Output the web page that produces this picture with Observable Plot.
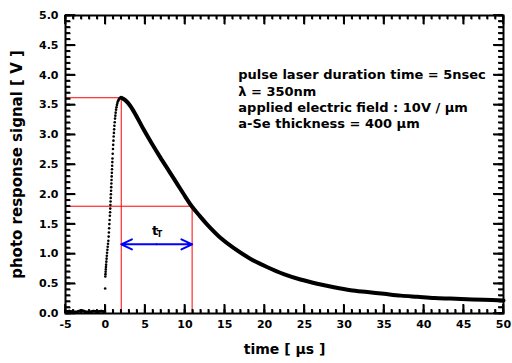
<!DOCTYPE html>
<html>
<head>
<meta charset="utf-8">
<script src="https://cdn.jsdelivr.net/npm/d3@7"></script>
<script src="https://cdn.jsdelivr.net/npm/@observablehq/plot@0.6"></script>
<style>
  html, body { margin: 0; padding: 0; background: #fff; }
  #chart svg text { font-family: "DejaVu Sans", "Liberation Sans", Arial, sans-serif; font-weight: bold; }
</style>
</head>
<body>
<div id="chart"></div>
<script>
// ---- data ----
const baseT = [-5, -4.5, -4, -3.5, -3, -2.5, -2, -1.5, -1, -0.5, -0.1];
const baseV = [0.03, 0.04, 0.02, 0.03, 0.05, 0.03, 0.02, 0.04, 0.03, 0.04, 0.03];

const riseT = [-0.02, 0.00, 0.02, 0.04, 0.06, 0.08, 0.10, 0.13, 0.16, 0.19, 0.22, 0.26, 0.30, 0.34, 0.38,
  0.42, 0.45, 0.48, 0.51, 0.54, 0.57, 0.60, 0.62, 0.64, 0.66, 0.68, 0.70, 0.72, 0.74, 0.76, 0.78,
  0.80, 0.82, 0.84, 0.86, 0.88, 0.90, 0.93, 0.96, 0.99, 1.02, 1.05, 1.08, 1.11, 1.14, 1.18, 1.22,
  1.26, 1.30, 1.35, 1.40, 1.46, 1.52, 1.58, 1.65, 1.72, 1.80, 1.88, 1.96];
const riseV = [0.42, 0.62, 0.66, 0.70, 0.74, 0.78, 0.82, 0.87, 0.92, 0.97, 1.02, 1.07, 1.12, 1.17, 1.22,
  1.29, 1.36, 1.43, 1.50, 1.57, 1.64, 1.70, 1.76, 1.82, 1.88, 1.94, 2.00, 2.06, 2.12, 2.18, 2.24,
  2.30, 2.36, 2.42, 2.48, 2.54, 2.60, 2.68, 2.76, 2.83, 2.90, 2.97, 3.03, 3.09, 3.15, 3.21, 3.27,
  3.32, 3.37, 3.42, 3.46, 3.50, 3.53, 3.56, 3.58, 3.60, 3.61, 3.62, 3.62];

const decayT = [2.0, 2.5, 3.1, 4.0, 4.8, 5.8, 6.9, 8.0, 9.0, 10.0, 10.9, 11.9, 12.8, 14.45, 16.1,
  18.2, 20.3, 22.4, 24.5, 26.6, 28.7, 30.8, 32.9, 35.0, 37.1, 39.2, 41.3, 43.3, 45.4, 47.5, 50.0];
const decayV = [3.62, 3.58, 3.49, 3.29, 3.09, 2.86, 2.62, 2.39, 2.18, 1.97, 1.79, 1.63, 1.49, 1.27, 1.10,
  0.92, 0.78, 0.66, 0.57, 0.50, 0.44, 0.39, 0.36, 0.33, 0.30, 0.28, 0.26, 0.25, 0.24, 0.23, 0.22];

const peakT = 2.0, peakV = 3.62;
const halfT = 10.9, halfV = 1.8;
const arrowV = 1.16;

const xMajor = [-5, 0, 5, 10, 15, 20, 25, 30, 35, 40, 45, 50];
const xMinor = d3.range(-5, 51, 1);
const yMajor = [0, 0.5, 1, 1.5, 2, 2.5, 3, 3.5, 4, 4.5, 5];
const yMinor = d3.range(0, 51, 1).map(d => d / 10);

const noteLines = [
  "pulse laser duration time = 5nsec",
  "λ = 350nm",
  "applied electric field : 10V / µm",
  "a-Se thickness = 400 µm"
];
const xLabel = "time [ µs ]";
const yLabel = "photo response signal [ V ]";

// ---- layout ----
const W = 512, H = 363;
const mL = 65, mR = 9, mT = 15, mB = 50;
const fw = W - mL - mR, fh = H - mT - mB;
const xDom = [-5, 50], yDom = [0, 5];
const ppx = fw / (xDom[1] - xDom[0]);   // px per µs
const ppy = fh / (yDom[1] - yDom[0]);   // px per V
const TW = 1.6;                          // tick thickness, px

const base = baseT.map((t, i) => ({t, v: baseV[i]}));
const rise = riseT.map((t, i) => ({t, v: riseV[i]}));
const decay = decayT.map((t, i) => ({t, v: decayV[i]}));

// inward tick marks (lengths in px): drawn both as thin filled rects and as links
const rows = (vals) => vals.map(v => ({v}));
const tickXRect = (vals, len, atTop) => Plot.rect(rows(vals), {
  x1: d => d.v - TW / 2 / ppx, x2: d => d.v + TW / 2 / ppx,
  y1: atTop ? yDom[1] - len / ppy : yDom[0],
  y2: atTop ? yDom[1] : yDom[0] + len / ppy,
  fill: "#000", inset: 0});
const tickYRect = (vals, len, atRight) => Plot.rect(rows(vals), {
  y1: d => d.v - TW / 2 / ppy, y2: d => d.v + TW / 2 / ppy,
  x1: atRight ? xDom[1] - len / ppx : xDom[0],
  x2: atRight ? xDom[1] : xDom[0] + len / ppx,
  fill: "#000", inset: 0});
const tickXLink = (vals, len, atTop) => Plot.link(rows(vals), {
  x1: "v", x2: "v",
  y1: atTop ? yDom[1] : yDom[0],
  y2: atTop ? yDom[1] - len / ppy : yDom[0] + len / ppy,
  stroke: "#000", strokeWidth: TW});
const tickYLink = (vals, len, atRight) => Plot.link(rows(vals), {
  y1: "v", y2: "v",
  x1: atRight ? xDom[1] : xDom[0],
  x2: atRight ? xDom[1] - len / ppx : xDom[0] + len / ppx,
  stroke: "#000", strokeWidth: TW});

const chart = Plot.plot({
  width: W, height: H,
  marginLeft: mL, marginRight: mR, marginTop: mT, marginBottom: mB,
  x: {domain: xDom, axis: null},
  y: {domain: yDom, axis: null},
  marks: [
    // tick labels
    Plot.text(xMajor, {x: d => d, text: d => String(d), frameAnchor: "bottom", dy: 14, fontSize: 11, fill: "#000"}),
    Plot.text(yMajor, {y: d => d, text: d => d3.format(".1f")(d), frameAnchor: "left", dx: -7, textAnchor: "end", fontSize: 11, fill: "#000"}),
    // red guide lines
    Plot.ruleY([peakV], {x1: xDom[0], x2: peakT, stroke: "#ff0000", strokeWidth: 1}),
    Plot.ruleX([peakT], {y1: yDom[0], y2: peakV, stroke: "#ff0000", strokeWidth: 1}),
    Plot.ruleY([halfV], {x1: xDom[0], x2: halfT, stroke: "#ff0000", strokeWidth: 1}),
    Plot.ruleX([halfT], {y1: yDom[0], y2: halfV, stroke: "#ff0000", strokeWidth: 1}),
    // data
    Plot.line(base, {x: "t", y: "v", strokeWidth: 3, stroke: "#000"}),
    Plot.dot(rise, {x: "t", y: "v", r: 1.3, fill: "#000", stroke: "none"}),
    Plot.line(decay, {x: "t", y: "v", strokeWidth: 4, stroke: "#000", curve: "catmull-rom"}),
    // double arrow t_T
    Plot.arrow([{a: (peakT + halfT) / 2, b: peakT}, {a: (peakT + halfT) / 2, b: halfT}], {
      x1: "a", x2: "b", y1: () => arrowV, y2: () => arrowV,
      stroke: "#0000ff", strokeWidth: 2, headLength: 9, headAngle: 50
    }),
    Plot.text(["t"], {x: 6.25, y: 1.39, fontSize: 13, fill: "#000"}),
    Plot.text(["T"], {x: 6.8, y: 1.32, fontSize: 8, fill: "#000"}),
    // annotation
    Plot.text([noteLines.join("\n")], {x: 16.7, y: 4.12, textAnchor: "start", lineAnchor: "top", lineHeight: 1.25, fontSize: 13, fill: "#000"}),
    // axis labels
    Plot.text([xLabel], {frameAnchor: "bottom", dy: 40, fontSize: 14, fill: "#000"}),
    Plot.text([yLabel], {frameAnchor: "left", dx: -48, rotate: -90, textAnchor: "middle", fontSize: 15, fill: "#000"}),
    Plot.frame({stroke: "#000", strokeWidth: 2}),
    // inward ticks on all four sides (drawn last)
    tickXRect(xMinor, 4, false), tickXRect(xMajor, 9, false),
    tickXRect(xMinor, 4, true), tickXRect(xMajor, 9, true),
    tickYRect(yMinor, 5, false), tickYRect(yMajor, 10, false),
    tickYRect(yMinor, 5, true), tickYRect(yMajor, 10, true),
    tickXLink(xMinor, 4, false), tickXLink(xMajor, 9, false),
    tickXLink(xMinor, 4, true), tickXLink(xMajor, 9, true),
    tickYLink(yMinor, 5, false), tickYLink(yMajor, 10, false),
    tickYLink(yMinor, 5, true), tickYLink(yMajor, 10, true)
  ]
});
document.getElementById("chart").appendChild(chart);
</script>
</body>
</html>
